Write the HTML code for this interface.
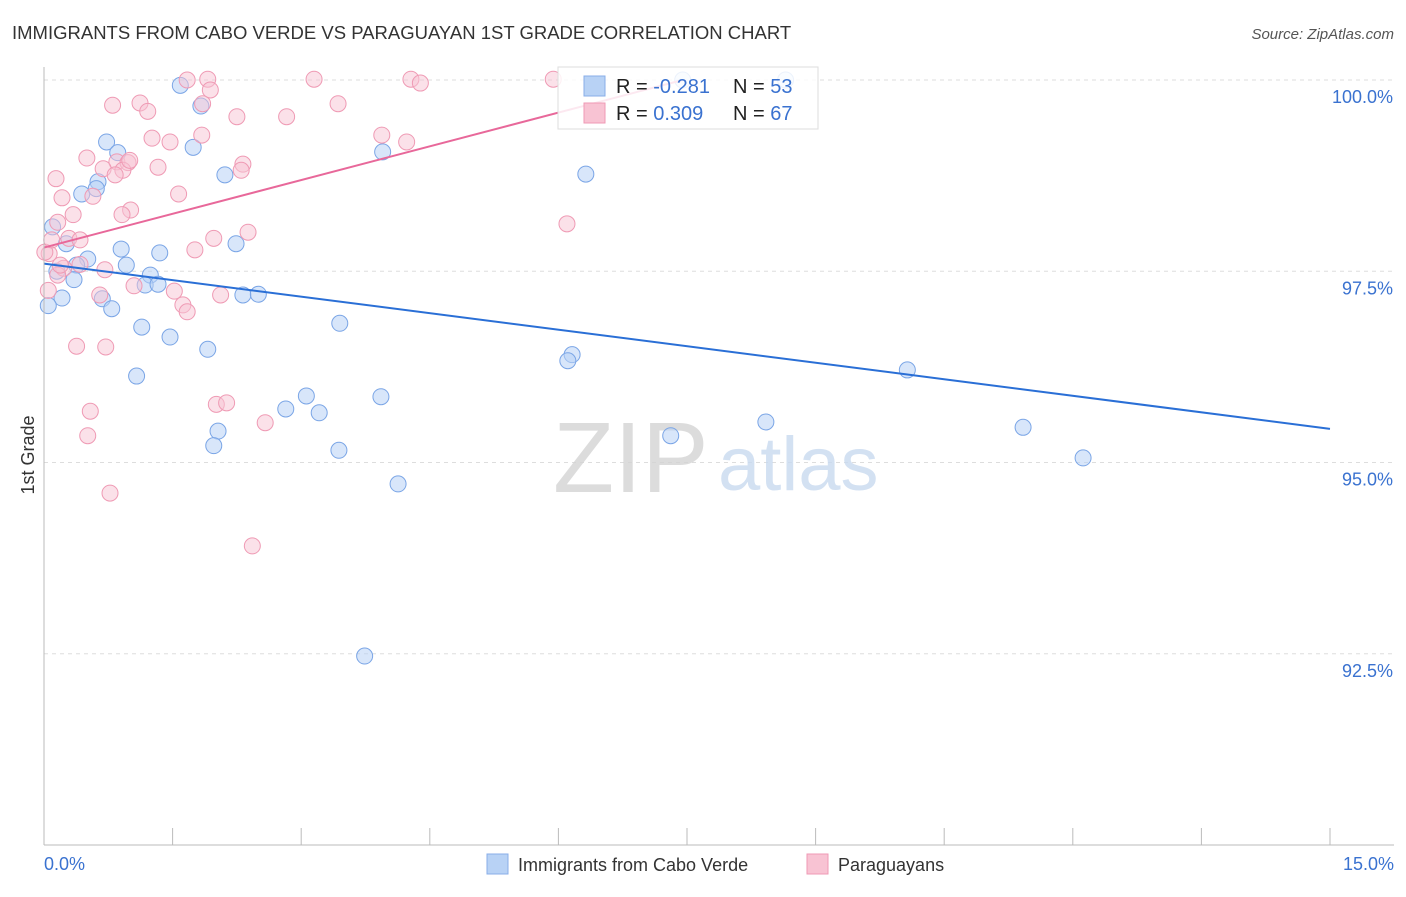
<!DOCTYPE html>
<html><head><meta charset="utf-8"><style>
body{margin:0;background:#fff;font-family:"Liberation Sans",sans-serif;}
svg text{font-family:"Liberation Sans",sans-serif;}
</style></head><body>
<svg id="chart" width="1406" height="892" xmlns="http://www.w3.org/2000/svg">
<text x="12" y="39" font-size="18.5" fill="#333">IMMIGRANTS FROM CABO VERDE VS PARAGUAYAN 1ST GRADE CORRELATION CHART</text>
<text x="1394" y="39" font-size="15" fill="#555" text-anchor="end" font-style="italic">Source: ZipAtlas.com</text>
<text x="34" y="455" font-size="18" fill="#333" text-anchor="middle" transform="rotate(-90 34 455)">1st Grade</text>
<g id="grid"></g>
<text x="553" y="492" font-size="100" fill="#d4d4d4" font-family="Liberation Serif" opacity="0.8">ZIP</text>
<text x="718" y="490" font-size="76" fill="#c9daf0" opacity="0.8">atlas</text>
<g id="points"></g>
<g id="lines"></g>
<g id="axes"></g>
<g>
<rect x="558" y="67" width="260" height="62" fill="#fff" fill-opacity="0.85" stroke="#ddd"/>
<rect x="584" y="76" width="21" height="20" fill="#b8d2f5" stroke="#88aee8"/>
<rect x="584" y="103" width="21" height="20" fill="#f8c3d3" stroke="#ef9ab4"/>
<text x="616" y="93" font-size="20" fill="#222">R = <tspan fill="#3a72d0">-0.281</tspan></text>
<text x="733" y="93" font-size="20" fill="#222">N = <tspan fill="#3a72d0">53</tspan></text>
<text x="616" y="120" font-size="20" fill="#222">R = <tspan fill="#3a72d0"> 0.309</tspan></text>
<text x="733" y="120" font-size="20" fill="#222">N = <tspan fill="#3a72d0">67</tspan></text>
</g>
<g>
<rect x="487" y="854" width="21" height="20" fill="#b8d2f5" stroke="#88aee8"/>
<text x="518" y="871" font-size="18" fill="#333">Immigrants from Cabo Verde</text>
<rect x="807" y="854" width="21" height="20" fill="#f8c3d3" stroke="#ef9ab4"/>
<text x="838" y="871" font-size="18" fill="#333">Paraguayans</text>
</g>
</svg>
<script>
const yTicks=[100,97.5,95,92.5];
const yTickLabels=["100.0%","97.5%","95.0%","92.5%"];
const xTickLabels=["0.0%","15.0%"];
const blueX=[1.59,1.83,0.73,1.74,0.86,3.95,2.11,6.32,0.63,0.44,0.61,0.10,0.26,0.90,1.35,2.24,0.51,0.38,0.96,1.24,0.35,1.18,1.33,0.21,0.68,2.32,2.50,0.79,0.05,3.45,1.14,1.47,1.91,6.16,6.11,10.07,1.08,3.06,3.93,2.82,3.21,2.03,7.31,8.42,11.42,1.98,3.44,12.12,4.13,3.74,7.45,8.65,0.15];
const blueY=[99.93,99.66,99.19,99.12,99.05,99.06,98.76,98.77,98.67,98.51,98.58,98.08,97.86,97.79,97.74,97.86,97.66,97.58,97.58,97.45,97.39,97.32,97.33,97.15,97.14,97.19,97.20,97.01,97.05,96.82,96.77,96.64,96.48,96.41,96.33,96.21,96.13,95.87,95.86,95.70,95.65,95.41,95.35,95.53,95.46,95.22,95.16,95.06,94.72,92.47,100.0,100.0,97.50];
const pinkX=[1.67,1.91,3.15,4.28,4.39,5.94,1.94,0.80,1.12,1.85,3.43,1.21,2.25,2.83,1.26,1.47,1.84,3.94,4.23,0.50,0.85,0.98,0.69,1.33,2.32,2.30,0.92,0.14,0.57,1.57,0.21,1.01,0.91,0.34,0.16,6.10,2.38,0.29,0.42,1.98,1.76,0.06,0.23,0.42,0.16,1.05,1.52,0.65,2.06,1.62,1.67,0.38,0.72,0.54,2.01,2.13,2.58,0.51,0.77,2.43,0.05,0.01,0.09,0.71,1.00,0.19,0.83];
const pinkY=[100.0,100.01,100.01,100.01,99.96,100.01,99.87,99.67,99.70,99.69,99.69,99.59,99.52,99.52,99.24,99.19,99.28,99.28,99.19,98.98,98.93,98.92,98.84,98.86,98.90,98.82,98.82,98.71,98.48,98.51,98.46,98.30,98.24,98.24,98.14,98.12,98.01,97.93,97.91,97.93,97.78,97.73,97.54,97.59,97.45,97.31,97.24,97.19,97.19,97.06,96.97,96.52,96.51,95.67,95.76,95.78,95.52,95.35,94.60,93.91,97.25,97.75,97.91,97.52,98.95,97.58,98.76];
const blueTrend=[[0,97.60],[15,95.44]];
const pinkTrend=[[0,97.81],[7.45,100.0]];

const NS="http://www.w3.org/2000/svg";
const xs=v=>44+v/15*1286;
const ys=v=>80+(100-v)*76.5;
function mk(tag,attrs,parent){const e=document.createElementNS(NS,tag);for(const k in attrs)e.setAttribute(k,attrs[k]);document.getElementById(parent).appendChild(e);return e;}

yTicks.forEach((t,i)=>{
  const g=mk('line',{x1:44,x2:1394,y1:ys(t),y2:ys(t),stroke:'#ddd','stroke-dasharray':'4,4'},'grid');
  
  
  const l=mk('text',{x:1393,y:ys(t)+23,'font-size':18,fill:'#3a72d0','text-anchor':'end'},'axes');
  l.textContent=yTickLabels[i];
  
  
});
const ax=mk('line',{x1:44,x2:44,y1:67,y2:845,stroke:'#bbb'},'axes');


const bx=mk('line',{x1:44,x2:1394,y1:845,y2:845,stroke:'#bbb'},'axes');


for(let i=0;i<=10;i++){
  const t=mk('line',{x1:xs(i*1.5),x2:xs(i*1.5),y1:828,y2:845,stroke:'#bbb'},'axes');
  
  
}
[[0,'start',44],[1,'end',1394]].forEach(([i,a,x])=>{
  const l=mk('text',{x:x,y:870,'font-size':18,fill:'#3a72d0','text-anchor':a},'axes');
  l.textContent=xTickLabels[i];
  
  
});
blueX.forEach((x,i)=>{
  const c=mk('circle',{cx:xs(x),cy:ys(blueY[i]),r:8,fill:'#b8d2f5','fill-opacity':0.55,stroke:'#7aa5e6','stroke-width':1},'points');
  
  
});
pinkX.forEach((x,i)=>{
  const c=mk('circle',{cx:xs(x),cy:ys(pinkY[i]),r:8,fill:'#f8c3d3','fill-opacity':0.5,stroke:'#ef9ab4','stroke-width':1},'points');
  
  
});
const bl=mk('line',{x1:xs(blueTrend[0][0]),y1:ys(blueTrend[0][1]),x2:xs(blueTrend[1][0]),y2:ys(blueTrend[1][1]),stroke:'#2a6fd6','stroke-width':2},'lines');


const pl=mk('line',{x1:xs(pinkTrend[0][0]),y1:ys(pinkTrend[0][1]),x2:xs(pinkTrend[1][0]),y2:ys(pinkTrend[1][1]),stroke:'#e8689a','stroke-width':2},'lines');


</script>
</body></html>
